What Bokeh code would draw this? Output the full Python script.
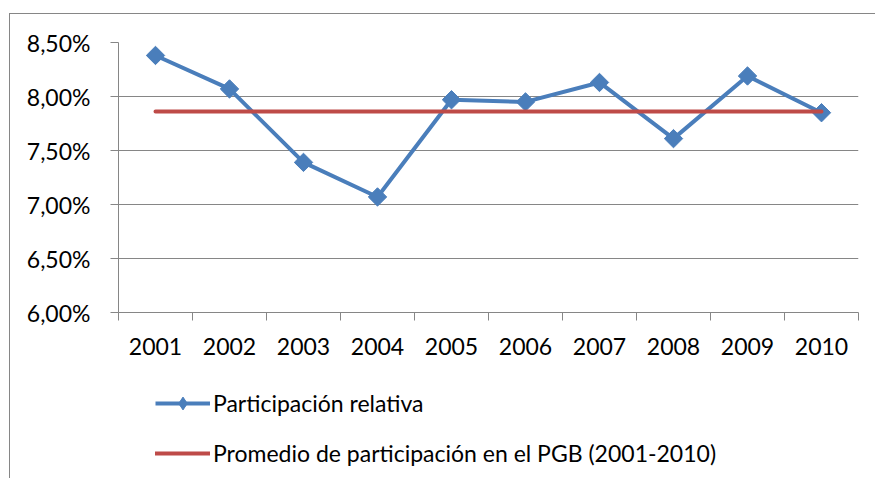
import math
from bokeh.plotting import figure
from bokeh.layouts import column
from bokeh.models import (Range1d, FixedTicker, CustomJSTickFormatter, Legend,
                          LegendItem, ColumnDataSource)
from bokeh.embed import file_html
from bokeh.resources import INLINE

# ---- data ----
years = ["2001", "2002", "2003", "2004", "2005", "2006", "2007", "2008", "2009", "2010"]
participacion = [8.38, 8.07, 7.39, 7.07, 7.97, 7.95, 8.13, 7.61, 8.19, 7.85]
promedio = 7.86
y_ticks = [6.0, 6.5, 7.0, 7.5, 8.0, 8.5]
serie_labels = ["Participación relativa", "Promedio de participación en el PGB (2001-2010)"]

FONT = "Lato"
FS = "23px"
BLUE = "#4A7EBB"
RED = "#BE4B48"
GRAY = "#868686"

x_pos = [i + 0.5 for i in range(len(years))]
src = ColumnDataSource(dict(x=x_pos, y=participacion, avg=[promedio] * len(years)))

W = 866
p = figure(width=W, height=360, output_backend="svg", toolbar_location=None,
           x_range=Range1d(0, len(years)), y_range=Range1d(y_ticks[0], y_ticks[-1]),
           min_border_left=108, min_border_right=18, min_border_top=28,
           min_border_bottom=62, outline_line_color=None,
           background_fill_color="white", border_fill_color="white")

# x axis: labels at category centres, ticks at boundaries
p.xaxis.ticker = FixedTicker(ticks=x_pos, minor_ticks=list(range(len(years) + 1)))
p.xaxis.formatter = CustomJSTickFormatter(args=dict(labels=years),
                                          code="return labels[Math.floor(tick)];")
p.xaxis.major_tick_out = 0
p.xaxis.major_tick_in = 0
p.xaxis.minor_tick_out = 8
p.xaxis.minor_tick_in = 0
p.xaxis.minor_tick_line_color = GRAY
p.xaxis.axis_line_color = GRAY
p.xaxis.major_label_standoff = 17
p.xaxis.major_label_text_font = FONT
p.xaxis.major_label_text_font_size = FS
p.xaxis.major_label_text_color = "black"

# y axis
p.yaxis.ticker = FixedTicker(ticks=y_ticks)
p.yaxis.formatter = CustomJSTickFormatter(code="return tick.toFixed(2).replace('.', ',') + '%';")
p.yaxis.major_tick_out = 8
p.yaxis.major_tick_in = 0
p.yaxis.minor_tick_line_color = None
p.yaxis.major_tick_line_color = GRAY
p.yaxis.axis_line_color = GRAY
p.yaxis.major_label_standoff = 20
p.yaxis.major_label_text_font = FONT
p.yaxis.major_label_text_font_size = FS
p.yaxis.major_label_text_color = "black"

p.xgrid.visible = False
p.ygrid.ticker = FixedTicker(ticks=y_ticks)
p.ygrid.grid_line_color = GRAY
p.ygrid.grid_line_width = 1

blue_style = dict(line_color=BLUE, line_width=4, line_join="round")
red_style = dict(line_color=RED, line_width=4, line_cap="round")

p.line("x", "y", source=src, **blue_style)
p.scatter("x", "y", source=src, size=13, marker="square", angle=math.pi / 4,
          fill_color=BLUE, line_color=BLUE)
p.line("x", "avg", source=src, **red_style)

# ---- legend panel (separate figure so the legend is not clipped) ----
# Its renderers reuse the same data, which falls outside this panel's ranges,
# so only the legend entries are visible.
leg = figure(width=W, height=105, output_backend="svg", toolbar_location=None,
             x_range=Range1d(-2, -1), y_range=Range1d(0, 1),
             min_border=0, outline_line_color=None,
             background_fill_color="white", border_fill_color="white")
leg.axis.visible = False
leg.grid.visible = False
lb = leg.line("x", "y", source=src, **blue_style)
lm = leg.scatter("x", "y", source=src, size=13, marker="diamond",
                 fill_color=BLUE, line_color=BLUE)
lr = leg.line("x", "avg", source=src, **red_style)

legend = Legend(items=[LegendItem(label=serie_labels[0], renderers=[lb, lm]),
                       LegendItem(label=serie_labels[1], renderers=[lr])],
                location=(37, 10), orientation="vertical",
                glyph_width=55, glyph_height=32, label_height=32, spacing=18,
                padding=0, margin=0, label_standoff=3,
                border_line_color=None, background_fill_alpha=0,
                label_text_font=FONT, label_text_font_size=FS,
                label_text_color="black")
leg.add_layout(legend)

page = column(p, leg, spacing=0)
page.styles = {"margin-left": "10px", "margin-top": "14px",
               "box-shadow": f"-1px -1px 0px 0px {GRAY}"}

open("out.html", "w").write(file_html(page, INLINE))
